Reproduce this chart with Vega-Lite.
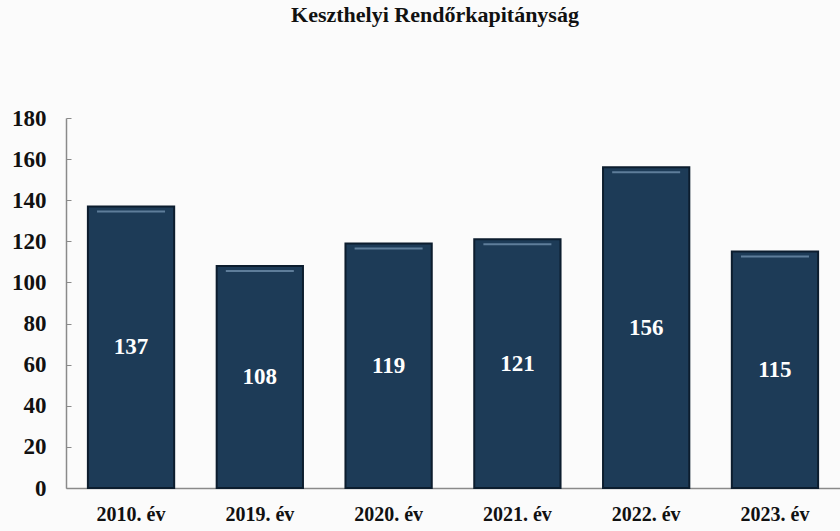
{
  "$schema": "https://vega.github.io/schema/vega-lite/v6.json",
  "autosize": "none",
  "width": 774,
  "height": 370,
  "padding": {"left": 66, "top": 118, "right": 0, "bottom": 43},
  "background": "#fbfbfb",
  "title": {
    "text": "Keszthelyi Rendőrkapitányság",
    "font": "Liberation Serif",
    "fontSize": 22,
    "fontWeight": "bold",
    "color": "#111111",
    "anchor": "middle",
    "dx": -18,
    "offset": 80
  },
  "config": {"view": {"stroke": null}},
  "data": {
    "values": [
      {"ev": "2010. év", "db": 137},
      {"ev": "2019. év", "db": 108},
      {"ev": "2020. év", "db": 119},
      {"ev": "2021. év", "db": 121},
      {"ev": "2022. év", "db": 156},
      {"ev": "2023. év", "db": 115}
    ]
  },
  "transform": [{"calculate": "datum.db / 2", "as": "mid"}],
  "encoding": {
    "x": {
      "field": "ev",
      "type": "nominal",
      "sort": null,
      "scale": {"paddingInner": 0.33, "paddingOuter": 0.17},
      "axis": {
        "title": null,
        "labelAngle": 0,
        "labelFont": "Liberation Serif",
        "labelFontSize": 20,
        "labelFontWeight": "bold",
        "labelColor": "#111111",
        "labelPadding": 16,
        "ticks": false,
        "domainColor": "#8a8a8a",
        "domainWidth": 1.5
      }
    }
  },
  "layer": [
    {
      "mark": {"type": "bar", "color": "#1d3b57", "stroke": "#0c1d2e", "strokeWidth": 2},
      "encoding": {
        "y": {
          "field": "db",
          "type": "quantitative",
          "scale": {"domain": [0, 180]},
          "axis": {
            "title": null,
            "values": [0, 20, 40, 60, 80, 100, 120, 140, 160, 180],
            "grid": false,
            "labelFont": "Liberation Serif",
            "labelFontSize": 23,
            "labelFontWeight": "bold",
            "labelColor": "#111111",
            "labelPadding": 25,
            "tickSize": -5,
            "tickColor": "#8a8a8a",
            "domainColor": "#8a8a8a",
            "domainWidth": 1.5
          }
        }
      }
    },
    {
      "mark": {"type": "tick", "color": "#6f8eab", "thickness": 2, "size": 68, "yOffset": 5, "opacity": 0.8},
      "encoding": {
        "y": {"field": "db", "type": "quantitative"}
      }
    },
    {
      "mark": {
        "type": "text",
        "color": "white",
        "font": "Liberation Serif",
        "fontSize": 23,
        "fontWeight": "bold",
        "baseline": "middle"
      },
      "encoding": {
        "y": {"field": "mid", "type": "quantitative"},
        "text": {"field": "db", "type": "quantitative"}
      }
    }
  ]
}
